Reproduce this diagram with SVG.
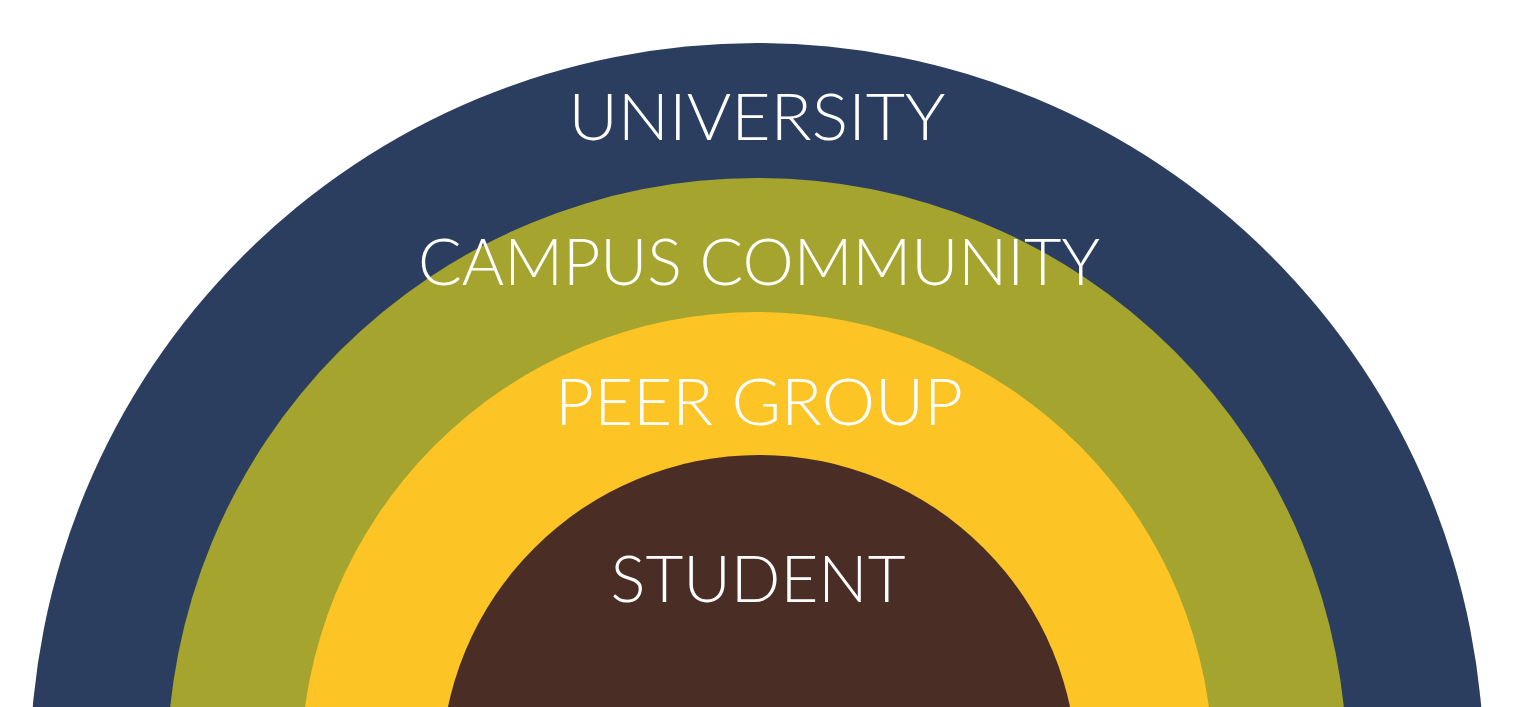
<svg xmlns="http://www.w3.org/2000/svg" width="1514" height="707" viewBox="0 0 1514 707">
<style>
text{font-family:Lato,"Open Sans","Liberation Sans",sans-serif;font-weight:300;font-size:66px;fill:#fff;text-anchor:middle}
</style>
<rect width="1514" height="707" fill="#fff"/>
<g id="university"><circle cx="757" cy="770" r="727" fill="#2b3e5f"/><text x="757" y="140" textLength="377" lengthAdjust="spacingAndGlyphs">UNIVERSITY</text></g>
<g id="campus"><circle cx="757" cy="768" r="590" fill="#a4a42e"/><text x="759" y="285" textLength="682" lengthAdjust="spacingAndGlyphs">CAMPUS COMMUNITY</text></g>
<g id="peer"><circle cx="757" cy="768" r="456" fill="#fdc426"/><text x="759" y="425" textLength="408" lengthAdjust="spacingAndGlyphs">PEER GROUP</text></g>
<g id="student"><circle cx="759" cy="773" r="318" fill="#4a2e26"/><text x="758" y="602" textLength="295" lengthAdjust="spacingAndGlyphs">STUDENT</text></g>
<g id="connectors"/>
</svg>
